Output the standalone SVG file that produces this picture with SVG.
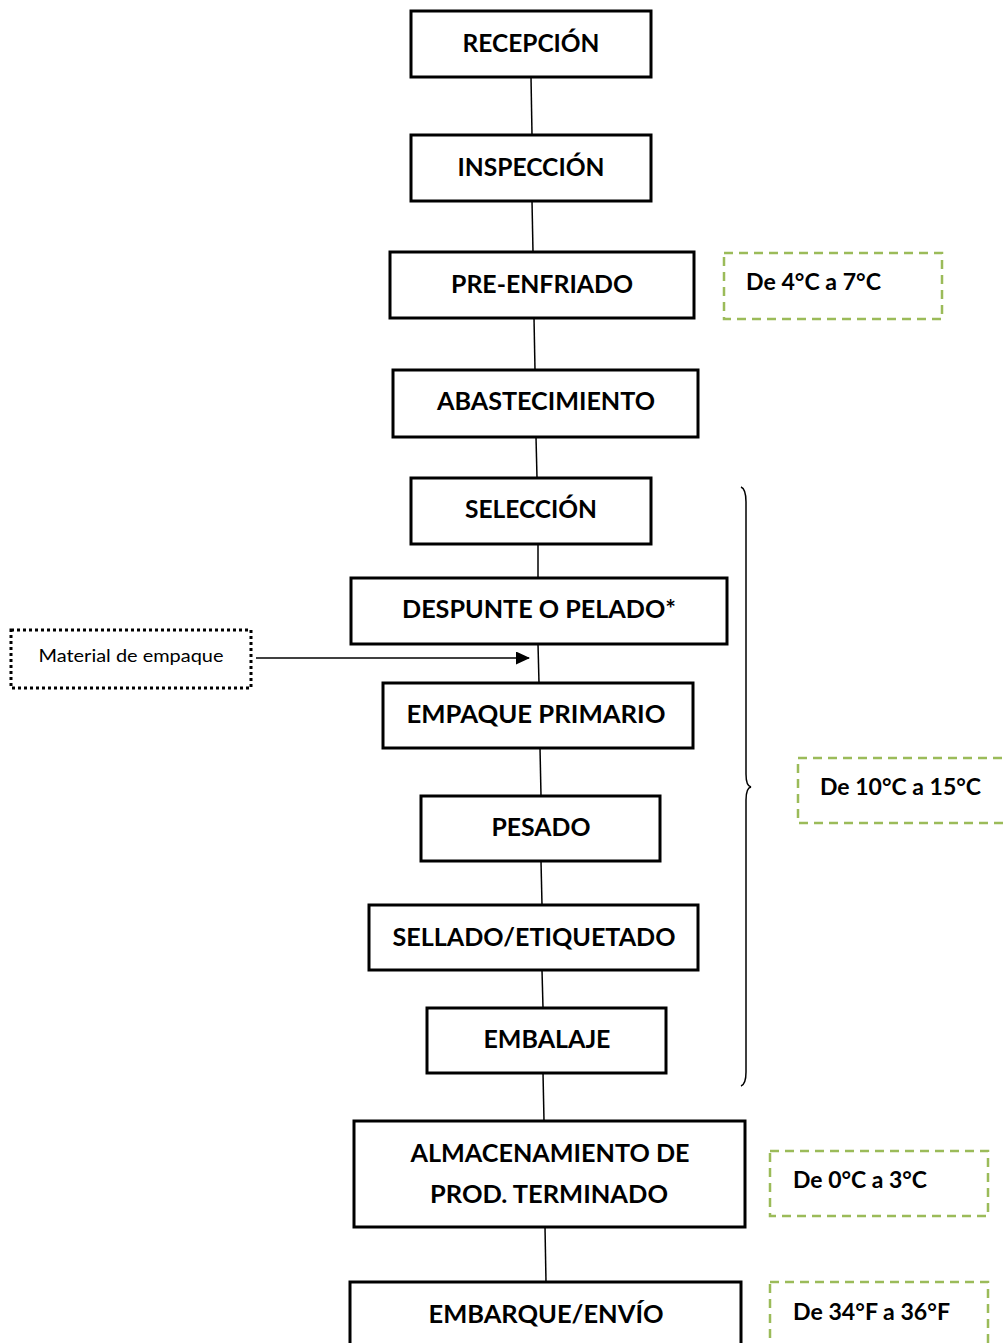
<svg xmlns="http://www.w3.org/2000/svg" width="1008" height="1343" viewBox="0 0 1008 1343">
<style>
.box{fill:#fff;stroke:#000;stroke-width:3}
.lbl{font-family:Lato,"Open Sans","Liberation Sans",sans-serif;font-weight:bold;font-size:25px;fill:#000;text-anchor:middle}
.temp{fill:none;stroke:#9BBB59;stroke-width:2.5;stroke-dasharray:9 6}
.tt{font-family:Lato,"Open Sans","Liberation Sans",sans-serif;font-weight:bold;font-size:23px;fill:#000}
.conn{stroke:#000;stroke-width:1.5;fill:none}
</style>
<defs>
<marker id="arr" markerWidth="14" markerHeight="14" refX="13" refY="6.5" orient="auto" markerUnits="userSpaceOnUse">
<path d="M0,0 L14,6.5 L0,13 Z" fill="#000"/>
</marker>
</defs>
<rect width="1008" height="1343" fill="#fff"/>
<g id="connectors">
<line class="conn" x1="531" y1="77" x2="532" y2="135"/>
<line class="conn" x1="532" y1="201" x2="533" y2="252"/>
<line class="conn" x1="534" y1="318" x2="535" y2="370"/>
<line class="conn" x1="536" y1="437" x2="537" y2="478"/>
<line class="conn" x1="538" y1="544" x2="538" y2="578"/>
<line class="conn" x1="538" y1="644" x2="539" y2="683"/>
<line class="conn" x1="540" y1="748" x2="541" y2="796"/>
<line class="conn" x1="541" y1="861" x2="542" y2="905"/>
<line class="conn" x1="542" y1="970" x2="543" y2="1008"/>
<line class="conn" x1="543" y1="1073" x2="544" y2="1121"/>
<line class="conn" x1="545" y1="1227" x2="546" y2="1282"/>
<line class="conn" x1="256" y1="658" x2="529" y2="658" marker-end="url(#arr)"/>
<path class="conn" stroke-width="2" d="M741,487 Q746,489 746,502 L746,774 Q746,786 751,787 Q746,788 746,800 L746,1072 Q746,1084 741,1086"/>
</g>
<g id="n1"><rect class="box" x="411" y="11" width="240" height="66"/><text class="lbl" x="531" y="52" textLength="137" lengthAdjust="spacingAndGlyphs">RECEPCIÓN</text></g>
<g id="n2"><rect class="box" x="411" y="135" width="240" height="66"/><text class="lbl" x="531" y="176" textLength="147" lengthAdjust="spacingAndGlyphs">INSPECCIÓN</text></g>
<g id="n3"><rect class="box" x="390" y="252" width="304" height="66"/><text class="lbl" x="542" y="293" textLength="182" lengthAdjust="spacingAndGlyphs">PRE-ENFRIADO</text></g>
<g id="n4"><rect class="box" x="393" y="370" width="305" height="67"/><text class="lbl" x="546" y="410" textLength="218" lengthAdjust="spacingAndGlyphs">ABASTECIMIENTO</text></g>
<g id="n5"><rect class="box" x="411" y="478" width="240" height="66"/><text class="lbl" x="531" y="518" textLength="132" lengthAdjust="spacingAndGlyphs">SELECCIÓN</text></g>
<g id="n6"><rect class="box" x="351" y="578" width="376" height="66"/><text class="lbl" x="539" y="618" textLength="274" lengthAdjust="spacingAndGlyphs">DESPUNTE O PELADO*</text></g>
<g id="n7"><rect class="box" x="383" y="683" width="310" height="65"/><text class="lbl" x="536" y="723" textLength="259" lengthAdjust="spacingAndGlyphs">EMPAQUE PRIMARIO</text></g>
<g id="n8"><rect class="box" x="421" y="796" width="239" height="65"/><text class="lbl" x="541" y="836" textLength="99" lengthAdjust="spacingAndGlyphs">PESADO</text></g>
<g id="n9"><rect class="box" x="369" y="905" width="329" height="65"/><text class="lbl" x="534" y="946" textLength="283" lengthAdjust="spacingAndGlyphs">SELLADO/ETIQUETADO</text></g>
<g id="n10"><rect class="box" x="427" y="1008" width="239" height="65"/><text class="lbl" x="547" y="1048" textLength="127" lengthAdjust="spacingAndGlyphs">EMBALAJE</text></g>
<g id="n11"><rect class="box" x="354" y="1121" width="391" height="106"/><text class="lbl" x="550" y="1162" textLength="279" lengthAdjust="spacingAndGlyphs">ALMACENAMIENTO DE</text><text class="lbl" x="549" y="1203" textLength="238" lengthAdjust="spacingAndGlyphs">PROD. TERMINADO</text></g>
<g id="n12"><rect class="box" x="350" y="1282" width="391" height="75"/><text class="lbl" x="546" y="1323" textLength="235" lengthAdjust="spacingAndGlyphs">EMBARQUE/ENVÍO</text></g>
<g id="material"><rect x="11" y="630" width="240" height="58" fill="#fff" stroke="#000" stroke-width="3" stroke-dasharray="3 3"/><text x="131" y="662" font-family="Lato,'Open Sans','Liberation Sans',sans-serif" font-size="18" text-anchor="middle" textLength="185" lengthAdjust="spacingAndGlyphs">Material de empaque</text></g>
<g id="t1"><rect class="temp" x="724" y="253" width="218" height="66"/><text class="tt" x="746" y="290" textLength="135" lengthAdjust="spacingAndGlyphs">De 4°C a 7°C</text></g>
<g id="t2"><rect class="temp" x="798" y="758" width="220" height="65"/><text class="tt" x="820" y="795" textLength="161" lengthAdjust="spacingAndGlyphs">De 10°C a 15°C</text></g>
<g id="t3"><rect class="temp" x="770" y="1151" width="218" height="65"/><text class="tt" x="793" y="1188" textLength="134" lengthAdjust="spacingAndGlyphs">De 0°C a 3°C</text></g>
<g id="t4"><rect class="temp" x="770" y="1282" width="218" height="80"/><text class="tt" x="793" y="1320" textLength="157" lengthAdjust="spacingAndGlyphs">De 34°F a 36°F</text></g>
</svg>
